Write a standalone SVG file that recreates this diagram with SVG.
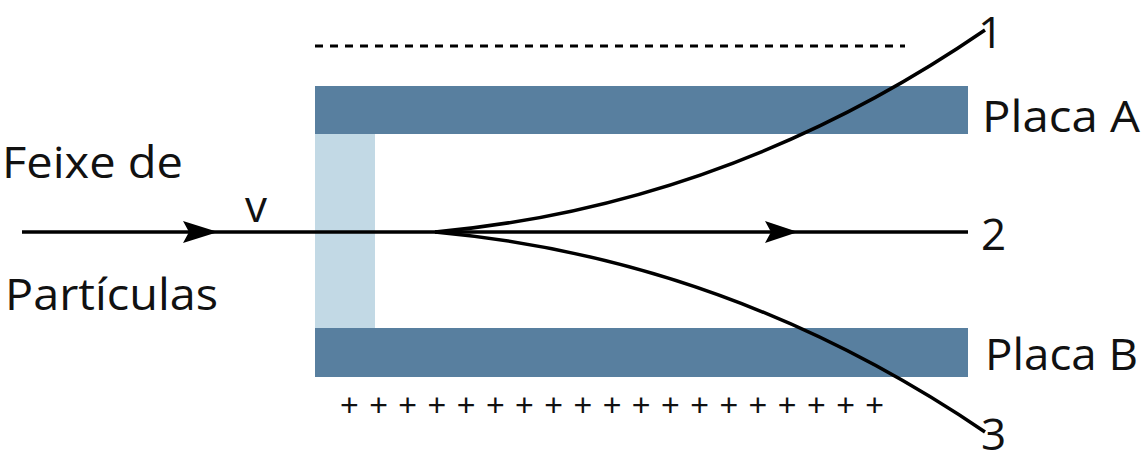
<svg xmlns="http://www.w3.org/2000/svg" width="1142" height="465" viewBox="0 0 1142 465">
<style>
.t{font-family:"Open Sans","Liberation Sans",sans-serif;font-size:44px;fill:#111}
.p{font-family:"Liberation Sans",sans-serif;font-size:32px;fill:#111}
.l{stroke:#000;stroke-width:3.5;fill:none}
</style>
<rect width="1142" height="465" fill="#fff"/>
<g id="plateA"><rect x="315" y="86" width="653" height="48" fill="#587f9f"/></g>
<g id="plateB"><rect x="315" y="328" width="653" height="49" fill="#587f9f"/></g>
<g id="slit"><rect x="315" y="134" width="60" height="194" fill="#c2d9e5"/></g>
<g id="connectors">
<line class="l" x1="22" y1="232" x2="968" y2="232"/>
<path d="M765,221 L798,232 L765,243 L771,232Z" fill="#000"/>
<path d="M183,221 L218,232 L183,243 L189,232Z" fill="#000"/>
<path class="l" d="M435,232 Q730,205 985,30"/>
<path class="l" d="M435,232 Q730,259 985,432"/>
<line x1="315" y1="46" x2="905" y2="46" stroke="#000" stroke-width="3" stroke-dasharray="8,7"/>
</g>
<g id="labels">
<text class="t" x="2" y="178" textLength="181" lengthAdjust="spacingAndGlyphs">Feixe de</text>
<text class="t" x="5" y="310" textLength="213" lengthAdjust="spacingAndGlyphs">Partículas</text>
<text class="t" x="245" y="222">v</text>
<text class="t" x="978" y="48">1</text>
<text class="t" x="981" y="250">2</text>
<text class="t" x="981" y="450">3</text>
<text class="t" x="982" y="132" textLength="158" lengthAdjust="spacingAndGlyphs">Placa A</text>
<text class="t" x="985" y="370" textLength="153" lengthAdjust="spacingAndGlyphs">Placa B</text>
<text class="p" x="340" y="416" textLength="544" lengthAdjust="spacing">+ + + + + + + + + + + + + + + + + + +</text>
</g>
</svg>
